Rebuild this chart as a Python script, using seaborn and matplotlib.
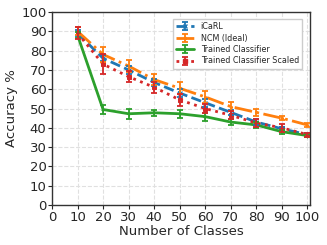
import numpy as np
import pandas as pd
import matplotlib
matplotlib.use("Agg")
import matplotlib.pyplot as plt
import seaborn as sns

classes = [10, 20, 30, 40, 50, 60, 70, 80, 90, 100]
icarl = [89, 76, 70, 63.5, 58, 53, 48, 43, 39.5, 36.5]
icarl_err = [1.5, 1.5, 2, 2, 2, 2, 1.5, 1.5, 1, 1]
ncm = [90, 78, 72, 65, 60.5, 56, 51, 48, 45, 41.5]
ncm_err = [2, 4, 3, 3, 3, 3, 2.5, 2, 1, 1]
trained = [88, 49.5, 47.3, 47.8, 47.3, 45.8, 43, 41.5, 38, 36]
trained_err = [1.5, 2.5, 2.5, 1.5, 2, 2, 1.5, 1.5, 1, 1]
scaled = [89, 73, 66.5, 61, 54.5, 50, 46.5, 42.5, 40, 36.5]
scaled_err = [3, 5, 3, 3, 3, 2.5, 2, 2, 2, 1]
labels = ["iCaRL", "NCM (Ideal)", "Trained Classifier", "Trained Classifier Scaled"]
xticks = list(range(0, 101, 10))
yticks = list(range(0, 101, 10))

sns.set_style("whitegrid", {"grid.linestyle": "--", "grid.color": "#e0e0e0",
                            "axes.edgecolor": "#333333"})
plt.rcParams['font.family'] = ['DejaVu Sans']

fig = plt.figure(figsize=(3.27, 2.45), dpi=100)
ax = fig.add_axes([0.159, 0.163, 0.789, 0.788])

series = [(icarl, icarl_err), (ncm, ncm_err), (trained, trained_err), (scaled, scaled_err)]
colors = sns.color_palette("tab10", 4)
styles = ["--", "-.", "-", ":"]
markers = ["x", ".", "+", "s"]

handles = []
for (m, e), lab, c, ls, mk in zip(series, labels, colors, styles, markers):
    df = pd.DataFrame({"x": classes, "y": m})
    sns.lineplot(data=df, x="x", y="y", ax=ax, color=c, linestyle=ls, linewidth=2,
                 marker=mk, markersize=3, markeredgecolor=c, legend=False)
    ax.errorbar(classes, m, yerr=e, fmt="none", ecolor=c, elinewidth=1.3,
                capsize=2.5, capthick=1.3, zorder=3)
    proxy = ax.errorbar([np.nan], [np.nan], yerr=[0.0], color=c, linestyle=ls, linewidth=2,
                        marker=mk, markersize=3, capsize=2.5, capthick=1.3,
                        elinewidth=1.3, label=lab)
    handles.append(proxy)

ax.set_xlim(0, 101)
ax.set_ylim(0, 100)
ax.set_xticks(xticks)
ax.set_yticks(yticks)
ax.tick_params(axis="both", labelsize=9.5, length=3, pad=1, left=True, bottom=True)
ax.set_xlabel("Number of Classes", fontsize=9.5, labelpad=1)
ax.set_ylabel("Accuracy %", fontsize=9.5, labelpad=2)
for s in ax.spines.values():
    s.set_color("#333333")
    s.set_linewidth(1)
ax.legend(handles=handles, labels=labels, loc="upper right", fontsize=5.8,
          frameon=True, fancybox=False, edgecolor="#cccccc", framealpha=1,
          borderpad=0.4, labelspacing=0.3, handlelength=2.2,
          bbox_to_anchor=(0.985, 0.985))
fig.savefig("out.png", dpi=100)
